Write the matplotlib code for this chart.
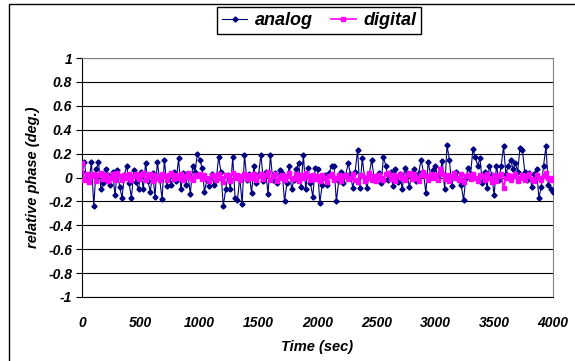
import numpy as np
import matplotlib
matplotlib.use("Agg")
import matplotlib.pyplot as plt
from matplotlib.patches import Rectangle

plt.rcParams["font.family"] = ["Liberation Sans", "DejaVu Sans"]

# ── data (20 s sampling) ─────────────────────────────────────────────────────
time_s = np.arange(0, 4001, 20)

analog = [
    0.05, 0.13, -0.02, -0.03, 0.13, -0.24, 0.07, 0.13, -0.10, -0.05, 0.07, 0.02, -0.06,
    0.05, -0.15, 0.06, -0.08, -0.17, 0.02, 0.10, -0.05, -0.17, 0.06, -0.04, -0.10,
    0.05, -0.10, 0.12, -0.03, -0.12, 0.04, -0.16, 0.13, -0.02, -0.18, 0.15, -0.07, 0.02,
    -0.06, 0.05, -0.03, 0.16, -0.10, 0.04, -0.06, 0.02, -0.14, 0.10, 0.05, 0.20,
    0.15, 0.08, -0.12, -0.02, -0.07, 0.03, -0.06, -0.02, 0.17, 0.05, -0.24, -0.10, 0.02,
    -0.10, 0.17, -0.17, -0.19, 0.00, -0.22, 0.19, -0.02, 0.03, -0.13, 0.10, -0.05,
    0.03, 0.19, -0.03, 0.05, -0.14, 0.19, -0.02, 0.04, -0.05, 0.06, 0.04, -0.20, -0.05,
    0.10, -0.10, -0.02, 0.07, 0.12, -0.08, 0.19, -0.10, 0.08, -0.05, -0.16, 0.08,
    0.07, -0.21, -0.06, 0.02, -0.06, 0.04, 0.10, 0.10, -0.20, -0.03, 0.05, -0.05, 0.02,
    0.12, 0.03, -0.09, 0.05, 0.23, -0.09, 0.16, 0.00, -0.09, 0.03, 0.15, 0.00,
    -0.02, 0.04, -0.05, 0.17, 0.10, -0.02, 0.05, -0.07, 0.07, -0.04, 0.03, -0.10, 0.08,
    0.04, -0.08, 0.02, 0.07, -0.03, 0.04, 0.15, 0.04, -0.13, 0.13, 0.02, 0.06,
    0.10, 0.00, 0.04, 0.14, -0.10, 0.27, 0.15, -0.07, 0.02, 0.05, -0.02, -0.06, -0.19,
    0.00, 0.08, 0.03, 0.24, 0.17, 0.10, 0.16, -0.05, 0.05, -0.09, 0.10, 0.02,
    -0.15, 0.10, -0.02, 0.10, 0.26, 0.03, 0.10, 0.15, 0.07, 0.12, 0.05, 0.25, 0.23,
    0.05, -0.02, 0.04, -0.08, 0.03, 0.07, -0.17, -0.08, 0.10, 0.26, -0.06, -0.10,
    -0.12,
]

digital = [
    0.12, -0.02, 0.03, -0.04, 0.01, 0.03, -0.03, 0.02, 0.04, -0.01, 0.02, -0.03, 0.00,
    0.03, -0.02, 0.04, 0.01, -0.02, 0.02, 0.00, 0.03, -0.02, 0.01, 0.03, -0.01,
    0.02, 0.04, -0.02, 0.01, 0.03, -0.03, 0.02, 0.00, -0.02, 0.03, 0.01, -0.02, 0.02,
    0.04, -0.01, 0.02, 0.00, 0.03, -0.02, 0.01, 0.04, 0.00, -0.02, 0.02, 0.01,
    0.03, -0.01, 0.02, 0.00, -0.03, 0.02, 0.01, -0.02, 0.03, 0.00, -0.04, 0.02, 0.01,
    -0.03, 0.04, 0.00, 0.02, -0.02, 0.01, 0.03, -0.01, 0.02, 0.00, 0.03, -0.02,
    0.01, 0.03, -0.01, 0.02, 0.05, -0.02, 0.01, 0.03, -0.03, 0.00, 0.02, -0.02, 0.01,
    0.04, -0.01, 0.00, 0.03, -0.03, 0.02, 0.00, 0.04, 0.01, -0.02, 0.02, -0.01,
    0.01, -0.03, 0.02, 0.00, -0.04, 0.01, 0.03, -0.02, 0.00, 0.02, -0.03, 0.01, 0.02,
    -0.01, 0.00, 0.03, -0.02, -0.04, 0.01, 0.02, -0.03, 0.00, 0.04, -0.02, 0.01,
    -0.03, 0.02, 0.00, -0.02, 0.03, 0.04, -0.01, 0.02, -0.03, 0.01, 0.03, 0.00, -0.02,
    0.02, 0.04, -0.01, 0.03, 0.00, -0.03, 0.02, 0.05, 0.01, -0.02, 0.03, 0.00,
    0.02, -0.02, 0.07, 0.03, -0.01, 0.02, -0.03, 0.01, 0.04, 0.00, -0.02, 0.03, -0.04,
    0.01, 0.02, -0.01, 0.03, 0.00, -0.03, 0.02, 0.01, -0.02, 0.03, 0.00, -0.04,
    0.02, -0.03, 0.01, 0.03, -0.09, 0.00, 0.02, -0.02, 0.01, 0.03, -0.03, 0.00, 0.02,
    -0.02, 0.01, 0.03, -0.01, -0.03, 0.02, 0.00, -0.02, 0.01, 0.04, 0.00, -0.02,
    0.00,
]

x_ticks = [0, 500, 1000, 1500, 2000, 2500, 3000, 3500, 4000]
y_ticks = [-1, -0.8, -0.6, -0.4, -0.2, 0, 0.2, 0.4, 0.6, 0.8, 1]
y_ticklabels = ["-1", "-0.8", "-0.6", "-0.4", "-0.2", "0", "0.2", "0.4", "0.6", "0.8", "1"]

C_ANALOG = "#000080"
C_DIGITAL = "#FF00FF"

fig = plt.figure(figsize=(5.75, 3.61), dpi=100)
ax = fig.add_axes([82 / 575, 1 - 297 / 361, 471 / 575, 239 / 361])

# outer chart-area border (runs off the right/bottom of the picture)
fig.patches.append(Rectangle((9 / 575, -0.2), 1.2, 0.2 + 1 - 4 / 361,
                             transform=fig.transFigure, fill=False,
                             edgecolor="black", linewidth=1.0))

ax.plot(time_s, analog, color=C_ANALOG, lw=0.8, marker="D", ms=2.6,
        mec=C_ANALOG, mfc=C_ANALOG, label="analog", zorder=3)
ax.plot(time_s, digital, color=C_DIGITAL, lw=1.2, marker="s", ms=2.8,
        mec=C_DIGITAL, mfc=C_DIGITAL, label="digital", zorder=4)

ax.set_xlim(0, 4000)
ax.set_ylim(-1, 1)
ax.set_xticks(x_ticks)
ax.set_xticklabels([str(t) for t in x_ticks])
ax.set_yticks(y_ticks)
ax.set_yticklabels(y_ticklabels)
for lab in ax.get_xticklabels() + ax.get_yticklabels():
    lab.set_fontweight("bold")
    lab.set_fontstyle("italic")
    lab.set_fontsize(10)

ax.yaxis.grid(True, color="black", linewidth=0.8)
ax.set_axisbelow(True)
ax.tick_params(axis="y", direction="out", length=4, width=0.8, pad=3)
ax.tick_params(axis="x", length=0, pad=14)
ax.spines["left"].set_color("black")
ax.spines["bottom"].set_color("black")
ax.spines["top"].set_color("#808080")
ax.spines["right"].set_color("#808080")

ax.set_xlabel("Time (sec)", fontsize=10.5, fontweight="bold", fontstyle="italic", labelpad=7)
ax.set_ylabel("relative phase (deg.)", fontsize=10.5, fontweight="bold", fontstyle="italic", labelpad=6)

leg = fig.legend(loc="center", bbox_to_anchor=(319 / 575, 1 - 20.5 / 361), ncol=2,
                 frameon=True, fancybox=False, edgecolor="black", framealpha=1,
                 handlelength=1.4, handletextpad=0.4, columnspacing=1.0,
                 borderpad=0.25, prop={"size": 13, "weight": "bold", "style": "italic"})
leg.get_frame().set_linewidth(1.0)

fig.savefig("out.png", dpi=100)
